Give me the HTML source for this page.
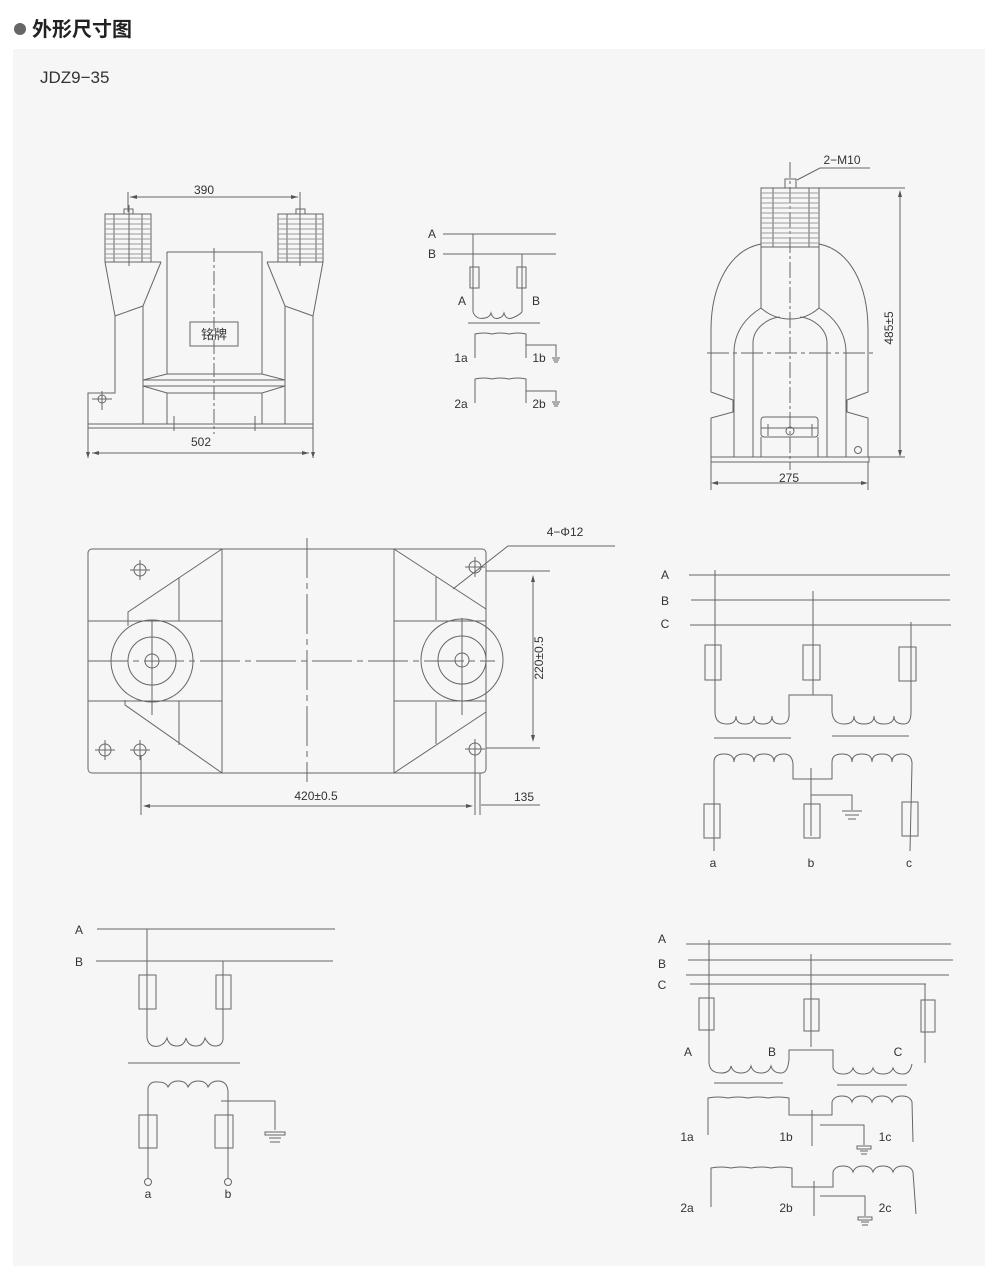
<!DOCTYPE html>
<html><head><meta charset="utf-8"><style>
html,body{margin:0;padding:0;background:#fff;}
svg{display:block;}
text{font-family:"Liberation Sans","Noto Sans CJK SC",sans-serif;fill:#333;}
</style></head><body>
<svg width="1000" height="1280" viewBox="0 0 1000 1280" xmlns="http://www.w3.org/2000/svg">
<rect x="0" y="0" width="1000" height="1280" fill="#fff"/>
<circle cx="20" cy="29" r="6" fill="#666"/>
<text x="32" y="36" font-size="20" font-weight="bold" style="fill:#222">外形尺寸图</text>
<rect x="13" y="49" width="972" height="1217" fill="#f6f6f6"/>
<text x="40" y="83" font-size="17">JDZ9−35</text>

<g fill="none" stroke="#666" stroke-width="1">
<!-- FRONT VIEW -->
<line x1="128" y1="192" x2="128" y2="212"/><line x1="300" y1="192" x2="300" y2="212"/>
<line x1="130" y1="197" x2="298" y2="197"/>
<rect x="124" y="209" width="9" height="5"/>
<rect x="105" y="214" width="46" height="48"/><rect x="114" y="214" width="28" height="48"/>
<rect x="296" y="209" width="9" height="5"/>
<rect x="278" y="214" width="45" height="48"/><rect x="287" y="214" width="29" height="48"/>
<g stroke="#999"><path d="M105 219h46M105 224h46M105 229h46M105 234h46M105 239h46M105 244h46M105 249h46M105 254h46M105 258h46"/>
<path d="M278 219h45M278 224h45M278 229h45M278 234h45M278 239h45M278 244h45M278 249h45M278 254h45M278 258h45"/></g>
<line x1="129" y1="205" x2="129" y2="266"/><line x1="300" y1="205" x2="300" y2="266"/>
<path d="M105 262 L115 316 L115 393 L88 393 L88 424"/>
<path d="M323 262 L313 316 L313 424"/>
<path d="M115 316 L143 306 L161 262 M313 316 L285 306 L267 262"/>
<line x1="143" y1="306" x2="143" y2="424"/><line x1="285" y1="306" x2="285" y2="424"/>
<path d="M151 262 L161 262 M267 262 L278 262"/>
<path d="M167 252 L262 252 L262 374 M167 252 L167 374"/>
<path d="M167 374 L262 374 L285 380 L285 386 L262 393 L167 393 L143 386 L143 380 Z"/>
<line x1="143" y1="380" x2="285" y2="380"/><line x1="143" y1="386" x2="285" y2="386"/>
<line x1="167" y1="393" x2="167" y2="424"/><line x1="262" y1="393" x2="262" y2="424"/>
<rect x="88" y="424" width="225" height="4"/>
<line x1="174" y1="416" x2="174" y2="431"/><line x1="255" y1="416" x2="255" y2="431"/>
<line x1="214" y1="248" x2="214" y2="434" stroke-dasharray="14,3,3,3"/>
<rect x="190" y="322" width="48" height="24"/>
<circle cx="102" cy="399" r="4"/><line x1="92" y1="399" x2="112" y2="399"/><line x1="102" y1="391" x2="102" y2="410"/>
<line x1="88" y1="428" x2="88" y2="458"/><line x1="313" y1="428" x2="313" y2="458"/>
<line x1="92" y1="453" x2="309" y2="453"/>

<!-- SIDE VIEW -->
<path d="M797 180 L820 168 L870 168"/>
<line x1="790" y1="162" x2="790" y2="470" stroke-dasharray="16,3,3,3"/>
<rect x="785" y="179" width="11" height="9"/>
<rect x="761" y="188" width="58" height="59"/><rect x="773" y="188" width="36" height="59"/>
<g stroke="#999"><path d="M761 193h58M761 198h58M761 203h58M761 208h58M761 213h58M761 218h58M761 223h58M761 228h58M761 233h58M761 238h58M761 243h58"/></g>
<line x1="819" y1="188" x2="905" y2="188"/>
<line x1="900" y1="192" x2="900" y2="455"/>
<path d="M761 244 C730 250 711 285 711 330 L711 392 L733 400 L733 412 L711 418 L711 457"/>
<path d="M819 244 C850 250 868 285 868 330 L868 392 L847 400 L847 412 L868 418 L868 457"/>
<path d="M761 247 L761 308 M819 247 L819 308"/>
<path d="M761 308 C770 316 780 319 790 319 C800 319 810 316 819 308"/>
<path d="M734 457 L734 353 C734 330 748 316 761 308 M846 457 L846 353 C846 330 832 316 819 308"/>
<path d="M753 457 L753 343 C753 328 768 318 780 317 M827 457 L827 343 C827 328 812 318 800 317"/>
<line x1="707" y1="353" x2="873" y2="353" stroke-dasharray="22,4,4,4"/>
<rect x="761" y="417" width="57" height="20" rx="3"/>
<line x1="768" y1="424" x2="768" y2="436"/><line x1="812" y1="424" x2="812" y2="436"/>
<line x1="761" y1="428" x2="818" y2="428"/>
<circle cx="790" cy="431" r="4"/>
<line x1="761" y1="437" x2="761" y2="457"/><line x1="818" y1="437" x2="818" y2="457"/>
<rect x="711" y="457" width="158" height="5"/>
<circle cx="858" cy="450" r="3.5"/>
<line x1="869" y1="457" x2="905" y2="457"/>
<line x1="711" y1="462" x2="711" y2="490"/><line x1="868" y1="462" x2="868" y2="490"/>
<line x1="715" y1="483" x2="864" y2="483"/>

<!-- PLAN VIEW -->
<rect x="88" y="549" width="398" height="224" rx="4"/>
<line x1="222" y1="549" x2="222" y2="773"/><line x1="394" y1="549" x2="394" y2="773"/>
<path d="M222 549 L128 612 L128 626 M222 773 L125 705 L125 700"/>
<line x1="179" y1="578" x2="179" y2="621"/><line x1="179" y1="701" x2="179" y2="745"/>
<line x1="88" y1="621" x2="222" y2="621"/><line x1="88" y1="701" x2="222" y2="701"/>
<path d="M394 549 L486 609 M394 773 L486 712"/>
<line x1="436" y1="577" x2="436" y2="620"/><line x1="436" y1="702" x2="436" y2="744"/>
<line x1="394" y1="621" x2="486" y2="621"/><line x1="394" y1="701" x2="486" y2="701"/>
<circle cx="152" cy="661" r="41"/><circle cx="152" cy="661" r="24"/><circle cx="152" cy="661" r="7"/>
<circle cx="462" cy="660" r="41"/><circle cx="462" cy="660" r="24"/><circle cx="462" cy="660" r="7"/>
<line x1="88" y1="661" x2="495" y2="661" stroke-dasharray="40,5,6,5"/>
<line x1="307" y1="538" x2="307" y2="782" stroke-dasharray="40,5,6,5"/>
<line x1="152" y1="620" x2="152" y2="715"/><line x1="462" y1="618" x2="462" y2="715"/>
<g>
<circle cx="140" cy="570" r="6"/><path d="M130 570h20M140 560v20"/>
<circle cx="105" cy="750" r="6"/><path d="M95 750h20M105 740v20"/>
<circle cx="140" cy="750" r="6"/><path d="M130 750h20M140 740v20"/>
<circle cx="475" cy="567" r="6"/><path d="M465 567h20M475 557v20"/>
<circle cx="475" cy="749" r="6"/><path d="M465 749h20M475 739v20"/>
</g>
<path d="M615 546 L508 546 L453 589"/>
<line x1="486" y1="571" x2="550" y2="571"/><line x1="486" y1="748" x2="540" y2="748"/>
<line x1="533" y1="577" x2="533" y2="740"/>
<line x1="141" y1="755" x2="141" y2="815"/><line x1="475" y1="755" x2="475" y2="815"/><line x1="480" y1="773" x2="480" y2="815"/>
<line x1="145" y1="806" x2="471" y2="806"/>
<line x1="481" y1="805" x2="540" y2="805"/>

<!-- SCHEMATIC TOP MIDDLE -->
<line x1="443" y1="234" x2="556" y2="234"/><line x1="443" y1="254" x2="556" y2="254"/>
<line x1="473" y1="234" x2="473" y2="312"/><rect x="470" y="267" width="9" height="21"/>
<line x1="522" y1="254" x2="522" y2="312"/><rect x="517" y="267" width="9" height="21"/>
<path d="M473 312 q3 8 12 6 q5 -1 6 -5 q2 7 8 5 q4 -1 5 -5 q2 7 8 5 q6 -2 10 -6"/>
<line x1="468" y1="323" x2="540" y2="323"/>
<path d="M475 358 L475 334 q9 -2 17 0 q8 -2 17 0 q9 -2 17 0 L526 358 M526 345 L556 345 L556 357"/>
<path d="M552 358h8M553 360h6M554 362h4"/>
<path d="M475 403 L475 379 q9 -2 17 0 q8 -2 17 0 q9 -2 17 0 L526 403 M526 391 L556 391 L556 401"/>
<path d="M552 402h8M553 404h6M554 406h4"/>

<!-- SCHEMATIC RIGHT MIDDLE -->
<line x1="689" y1="575" x2="950" y2="575"/><line x1="691" y1="600" x2="950" y2="600"/><line x1="690" y1="625" x2="951" y2="625"/>
<line x1="715" y1="570" x2="715" y2="712"/><rect x="705" y="645" width="16" height="35"/>
<line x1="813" y1="591" x2="813" y2="695"/><rect x="803" y="645" width="17" height="35"/>
<line x1="911" y1="622" x2="911" y2="712"/><rect x="899" y="647" width="17" height="34"/>
<path d="M715 712 q0 12 12 12 q9 0 9 -8 q0 8 9 8 q9 0 9 -8 q0 8 9 8 q9 0 9 -8 q0 8 9 8 q9 0 8 -12 L789 695 L832 695 L832 712 q1 12 12 12 q10 0 10 -8 q0 8 10 8 q10 0 10 -8 q0 8 10 8 q10 0 10 -8 q0 8 10 8 q7 0 7 -12"/>
<line x1="714" y1="738" x2="791" y2="738"/><line x1="832" y1="736" x2="909" y2="736"/>
<path d="M714 851 L714 762 q0 -8 10 -8 q10 0 10 8 q0 -8 10 -8 q10 0 10 8 q0 -8 10 -8 q10 0 10 8 q0 -8 10 -8 q8 0 9 10 L793 779 L832 779 L832 762 q0 -8 10 -8 q10 0 10 8 q0 -8 10 -8 q10 0 10 8 q0 -8 10 -8 q10 0 10 8 q0 -8 10 -8 q10 0 10 10 L910 851"/>
<line x1="811" y1="768" x2="811" y2="836"/>
<path d="M811 795 L852 795 L852 810"/>
<path d="M842 811h20M845 815h14M848 819h8"/>
<rect x="704" y="804" width="16" height="34"/><rect x="804" y="804" width="16" height="34"/><rect x="902" y="802" width="16" height="34"/>

<!-- SCHEMATIC BOTTOM LEFT -->
<line x1="97" y1="929" x2="335" y2="929"/><line x1="96" y1="961" x2="333" y2="961"/>
<line x1="147" y1="929" x2="147" y2="1038"/><rect x="139" y="975" width="17" height="34"/>
<line x1="223" y1="961" x2="223" y2="1038"/><rect x="216" y="975" width="15" height="34"/>
<path d="M147 1038 q2 10 12 8 q6 -2 8 -8 q2 8 10 8 q7 0 9 -8 q2 8 10 8 q7 0 9 -8 q4 8 10 8 q8 0 8 -8"/>
<line x1="128" y1="1063" x2="240" y2="1063"/>
<path d="M148 1178 L148 1088 q2 -7 10 -6 q8 0 10 5 q3 -6 10 -6 q8 0 10 6 q3 -6 10 -6 q8 0 10 6 q3 -6 10 -6 q9 0 10 10 L228 1178"/>
<rect x="139" y="1115" width="18" height="33"/><rect x="215" y="1115" width="18" height="33"/>
<circle cx="148" cy="1182" r="3.5"/><circle cx="228" cy="1182" r="3.5"/>
<path d="M221 1101 L275 1101 L275 1130"/>
<path d="M265 1132h20v3h-20z M269 1138h12M270 1142h10"/>

<!-- SCHEMATIC BOTTOM RIGHT -->
<line x1="686" y1="944" x2="951" y2="944"/><line x1="688" y1="960" x2="953" y2="960"/><line x1="686" y1="975" x2="949" y2="975"/><line x1="690" y1="984" x2="926" y2="984"/>
<line x1="709" y1="940" x2="709" y2="1063"/><rect x="699" y="998" width="15" height="32"/>
<line x1="811" y1="954" x2="811" y2="1047"/><rect x="804" y="999" width="15" height="32"/>
<line x1="925" y1="984" x2="925" y2="1063"/><rect x="921" y="1000" width="14" height="32"/>
<path d="M709 1063 q1 10 12 10 q9 0 10 -7 q2 7 10 7 q8 0 10 -7 q2 7 10 7 q8 0 10 -7 q2 7 10 7 q7 0 8 -14 L789 1050 L833 1050 L833 1068 q2 6 10 6 q8 0 10 -6 q2 6 10 6 q8 0 10 -6 q2 6 10 6 q8 0 10 -6 q2 6 10 6 q7 0 9 -10"/>
<line x1="714" y1="1083" x2="783" y2="1083"/><line x1="837" y1="1085" x2="907" y2="1085"/>
<path d="M708 1135 L708 1098 q10 -2 20 0 q10 -2 20 0 q10 -2 20 0 q10 -2 21 0 L789 1115 L832 1115 L832 1102 q2 -6 10 -6 q8 0 10 6 q2 -6 10 -6 q8 0 10 6 q2 -6 10 -6 q8 0 10 6 q2 -6 10 -6 q8 0 10 6 L913 1142"/>
<line x1="812" y1="1110" x2="812" y2="1146"/>
<path d="M820 1125 L864 1125 L864 1145"/>
<path d="M857 1146h14v3h-14z M860 1151h8M861 1154h6"/>
<path d="M711 1207 L711 1168 q10 -2 20 0 q10 -2 20 0 q10 -2 20 0 q10 -2 21 0 L792 1187 L833 1187 L833 1172 q2 -6 10 -6 q8 0 10 6 q2 -6 10 -6 q8 0 10 6 q2 -6 10 -6 q8 0 10 6 q2 -6 10 -6 q8 0 10 6 L916 1214"/>
<line x1="814" y1="1181" x2="814" y2="1216"/>
<path d="M820 1196 L865 1196 L865 1216"/>
<path d="M858 1217h14v3h-14z M861 1222h8M862 1225h6"/>
</g>

<g fill="#555" stroke="none">
<path d="M130 197l7-2v4z M298 197l-7-2v4z"/>
<path d="M92 453l7-2v4z M309 453l-7-2v4z"/>
<path d="M88 458l-2-6h4z M313 458l-2-6h4z"/>
<path d="M900 190l-2 7h4z M900 457l-2-7h4z"/>
<path d="M711 483l7-2v4z M868 483l-7-2v4z"/>
<path d="M533 575l-2 7h4z M533 742l-2-7h4z"/>
<path d="M143 806l7-2v4z M473 806l-7-2v4z"/>
</g>

<g font-size="12">
<text x="204" y="194" text-anchor="middle">390</text>
<text x="214" y="339" text-anchor="middle" font-size="13">铭牌</text>
<text x="201" y="446" text-anchor="middle">502</text>
<text x="842" y="164" text-anchor="middle">2−M10</text>
<text transform="translate(893,328) rotate(-90)" text-anchor="middle">485±5</text>
<text x="789" y="482" text-anchor="middle">275</text>
<text x="565" y="536" text-anchor="middle">4−Φ12</text>
<text transform="translate(543,658) rotate(-90)" text-anchor="middle">220±0.5</text>
<text x="316" y="800" text-anchor="middle">420±0.5</text>
<text x="524" y="801" text-anchor="middle">135</text>

<text x="432" y="238" text-anchor="middle">A</text>
<text x="432" y="258" text-anchor="middle">B</text>
<text x="462" y="305" text-anchor="middle">A</text>
<text x="536" y="305" text-anchor="middle">B</text>
<text x="461" y="362" text-anchor="middle">1a</text>
<text x="539" y="362" text-anchor="middle">1b</text>
<text x="461" y="408" text-anchor="middle">2a</text>
<text x="539" y="408" text-anchor="middle">2b</text>

<text x="665" y="579" text-anchor="middle">A</text>
<text x="665" y="605" text-anchor="middle">B</text>
<text x="665" y="628" text-anchor="middle">C</text>
<text x="713" y="867" text-anchor="middle">a</text>
<text x="811" y="867" text-anchor="middle">b</text>
<text x="909" y="867" text-anchor="middle">c</text>

<text x="79" y="934" text-anchor="middle">A</text>
<text x="79" y="966" text-anchor="middle">B</text>
<text x="148" y="1198" text-anchor="middle">a</text>
<text x="228" y="1198" text-anchor="middle">b</text>

<text x="662" y="943" text-anchor="middle">A</text>
<text x="662" y="968" text-anchor="middle">B</text>
<text x="662" y="989" text-anchor="middle">C</text>
<text x="688" y="1056" text-anchor="middle">A</text>
<text x="772" y="1056" text-anchor="middle">B</text>
<text x="898" y="1056" text-anchor="middle">C</text>
<text x="687" y="1141" text-anchor="middle">1a</text>
<text x="786" y="1141" text-anchor="middle">1b</text>
<text x="885" y="1141" text-anchor="middle">1c</text>
<text x="687" y="1212" text-anchor="middle">2a</text>
<text x="786" y="1212" text-anchor="middle">2b</text>
<text x="885" y="1212" text-anchor="middle">2c</text>
</g>
</svg>
</body></html>
